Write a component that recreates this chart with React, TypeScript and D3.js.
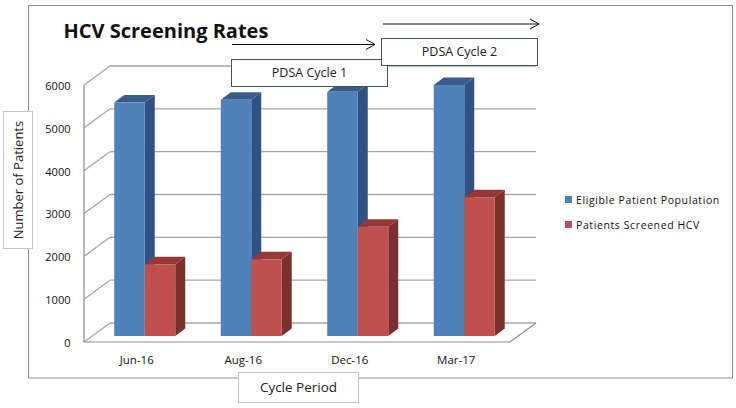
import React from "react";
import * as d3 from "d3";

const categories = ["Jun-16", "Aug-16", "Dec-16", "Mar-17"];
const eligible = [5450, 5515, 5700, 5860];
const screened = [1675, 1790, 2550, 3240];
const yTicks = [0, 1000, 2000, 3000, 4000, 5000, 6000];
const seriesNames = ["Eligible Patient Population", "Patients Screened HCV"];
const colors = [
  { front: "#4f81bd", top: "#385d8a", side: "#2f5183", legend: "#4f81ae" },
  { front: "#c0504d", top: "#953735", side: "#7c302e", legend: "#b9505a" },
];

const FONT = "'Open Sans', 'Noto Sans', sans-serif";
const W = 736, H = 408;
const floorL = 84, floorR = 510, frontY0 = 342, frontY6 = 85;
const depthX = 26, depthY = 19;
const barDepthX = 10, barDepthY = 7.5;
const barBase = 336;

const x = d3.scaleBand<string>().domain(categories).range([floorL, floorR]);
const yFront = d3.scaleLinear().domain([0, 6000]).range([frontY0, frontY6]);
const yBack = d3.scaleLinear().domain([0, 6000]).range([frontY0 - depthY, frontY6 - depthY]);
const yBar = d3.scaleLinear().domain([0, 6000]).range([barBase, barBase - (frontY0 - frontY6)]);
const barW = 30.5;
const line = d3.line();

function Bar({ left, value, c }: { left: number; value: number; c: (typeof colors)[number] }) {
  const t = yBar(value);
  const r = left + barW;
  return (
    <g>
      <path d={line([[r, t], [r + barDepthX, t - barDepthY], [r + barDepthX, barBase - barDepthY], [r, barBase]])! + "Z"} fill={c.side} />
      <path d={line([[left, t], [left + barDepthX, t - barDepthY], [r + barDepthX, t - barDepthY], [r, t]])! + "Z"} fill={c.top} />
      <rect x={left} y={t} width={barW} height={barBase - t} fill={c.front} />
    </g>
  );
}

function Box({ x0, y0, w, h, label, stroke, size, rotate }: { x0: number; y0: number; w: number; h: number; label: string; stroke: string; size: number; rotate?: boolean }) {
  const cx = x0 + w / 2, cy = y0 + h / 2;
  return (
    <g>
      <rect x={x0} y={y0} width={w} height={h} fill="#fff" stroke={stroke} />
      <text x={cx} y={cy} dy="0.35em" textAnchor="middle" fontSize={size} fontFamily={FONT} fill="#222"
        transform={rotate ? `rotate(-90 ${cx} ${cy})` : undefined}>{label}</text>
    </g>
  );
}

function Arrow({ x1, x2, y }: { x1: number; x2: number; y: number }) {
  return (
    <path d={`M${x1},${y}H${x2}M${x2 - 9},${y - 5}L${x2},${y}L${x2 - 9},${y + 5}`} fill="none" stroke="#111" strokeWidth={1} />
  );
}

export default function App() {
  const backL = floorL + depthX, backR = floorR + depthX;
  return (
    <svg width={W} height={H} style={{ position: "absolute", left: 0, top: 0, background: "#fff" }}>
      <rect x={28.5} y={5.5} width={704} height={372.5} fill="#fff" stroke="#8c8c8c" strokeWidth={1} />
      <text x={63.5} y={38} fontSize={20} fontWeight={700} fontFamily={FONT} fill="#111">HCV Screening Rates</text>

      {yTicks.map((t) => (
        <g key={t} stroke="#a6a6a6" strokeWidth={1.3} fill="none">
          <path d={`M${floorL},${yFront(t)}L${backL},${yBack(t)}`} />
          <path d={`M${backL},${yBack(t)}H${backR}`} />
        </g>
      ))}
      <path d={`M${floorL},${frontY6}V${frontY0}H${floorR}L${backR},${yBack(0)}`} fill="none" stroke="#8c8c8c" strokeWidth={1.2} />

      {yTicks.map((t) => (
        <text key={t} x={70.5} y={yFront(t) + 1} dy="0.35em" textAnchor="end" fontSize={11} fontFamily={FONT} fill="#111">{t}</text>
      ))}

      {categories.map((c, i) => {
        const center = x(c)! + x.bandwidth() / 2 + 7.5;
        return (
          <g key={c}>
            <Bar left={center - barW} value={eligible[i]} c={colors[0]} />
            <Bar left={center} value={screened[i]} c={colors[1]} />
            <text x={center - 8} y={364} textAnchor="middle" fontSize={11.5} fontFamily={FONT} fill="#111">{c}</text>
          </g>
        );
      })}

      {seriesNames.map((s, i) => (
        <g key={s}>
          <rect x={565} y={196 + i * 25} width={7} height={7} fill={colors[i].legend} />
          <text x={576} y={200 + i * 25} dy="0.35em" fontSize={10.5} fontFamily={FONT} fill="#111" letterSpacing={0.6}>{s}</text>
        </g>
      ))}

      <Box x0={3.5} y0={111.5} w={29} h={137} label="Number of Patients" stroke="#c4c4c4" size={13} rotate />
      <Box x0={238.5} y0={372.5} w={120} h={30} label="Cycle Period" stroke="#c4c4c4" size={13.5} />
      <Box x0={231.5} y0={59.5} w={156} h={27} label="PDSA Cycle 1" stroke="#3f5566" size={12.5} />
      <Box x0={381.5} y0={38.5} w={156} h={27} label="PDSA Cycle 2" stroke="#3f5566" size={12.5} />
      <Arrow x1={232} x2={375} y={44.5} />
      <Arrow x1={383} x2={539} y={24} />
    </svg>
  );
}
